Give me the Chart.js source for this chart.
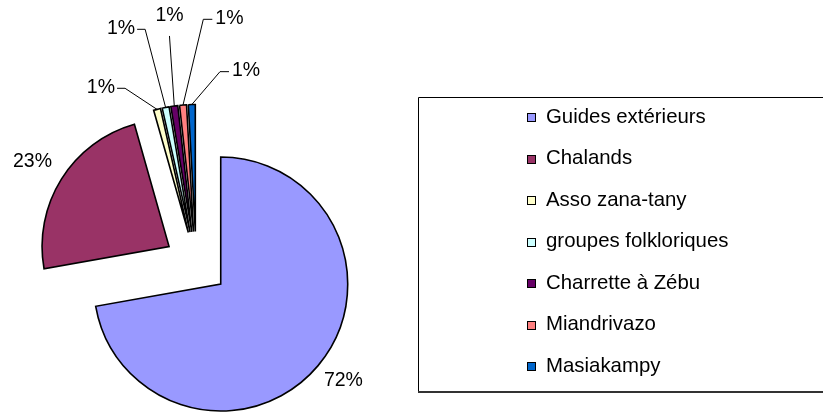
<!DOCTYPE html>
<html><head><meta charset="utf-8">
<script src="https://cdn.jsdelivr.net/npm/chart.js@4/dist/chart.umd.min.js"></script>
<style>html,body{margin:0;padding:0;background:#fff;overflow:hidden}#wrap{width:823px;height:414px;position:relative}</style>
</head><body><div id="wrap"><canvas id="c"></canvas></div>
<script>
// ---- data ----
const categories = ['Guides extérieurs','Chalands','Asso zana-tany','groupes folkloriques','Charrette à Zébu','Miandrivazo','Masiakampy'];
const shares = [72.2, 23.4, 0.88, 0.88, 0.88, 0.88, 0.88];
const sliceColors = ['#9999FF','#993366','#FFFFCC','#CCFFFF','#660066','#FF8080','#0066CC'];

// ---- layout / style ----
const EXPLODE = 32;
const FONT = '"Liberation Sans", Arial, sans-serif';
// label placement: angle (deg, clockwise from top) and distance from pie centre
const labelLayout = [
  {a:128.6, d:188.4, side:'center'},
  {a:301.8, d:192.6, side:'center'},
  {a:337.9, d:189.1, side:'left'},
  {a:347.7, d:239.7, side:'left'},
  {a:353.3, d:229.1, side:'top'},
  {a:1.67,  d:244.3, side:'right'},
  {a:7.07,  d:193.3, side:'right'}
];

const explodePlugin = {
  id: 'explode',
  afterUpdate(chart) {
    const meta = chart.getDatasetMeta(0);
    meta.data.forEach(arc => {
      const mid = (arc.startAngle + arc.endAngle) / 2;
      arc.x += Math.cos(mid) * EXPLODE;
      arc.y += Math.sin(mid) * EXPLODE;
    });
  }
};

const labelPlugin = {
  id: 'pctLabels',
  afterDatasetsDraw(chart) {
    const ctx = chart.ctx, ca = chart.chartArea;
    const cx = (ca.left + ca.right) / 2, cy = (ca.top + ca.bottom) / 2;
    const meta = chart.getDatasetMeta(0);
    const total = shares.reduce((s, v) => s + v, 0);
    ctx.save();
    ctx.font = '19.5px ' + FONT;
    ctx.fillStyle = '#000';
    ctx.strokeStyle = '#000';
    ctx.lineWidth = 1;
    meta.data.forEach((arc, i) => {
      const txt = Math.round(shares[i] / total * 100) + '%';
      const L = labelLayout[i];
      const th = (L.a - 90) * Math.PI / 180;
      const px = cx + Math.cos(th) * L.d, py = cy + Math.sin(th) * L.d;
      ctx.textBaseline = 'middle';
      if (L.side === 'center') {
        ctx.textAlign = 'center';
        ctx.fillText(txt, px, py);
        return;
      }
      const mid = (arc.startAngle + arc.endAngle) / 2;
      const tx = arc.x + Math.cos(mid) * arc.outerRadius;
      const ty = arc.y + Math.sin(mid) * arc.outerRadius;
      ctx.beginPath();
      ctx.moveTo(tx, ty);
      ctx.lineTo(px, py);
      if (L.side === 'left') {
        ctx.lineTo(px - 8, py);
        ctx.stroke();
        ctx.textAlign = 'right';
        ctx.fillText(txt, px - 10, py - 1);
      } else if (L.side === 'right') {
        ctx.lineTo(px + 9, py);
        ctx.stroke();
        ctx.textAlign = 'left';
        ctx.fillText(txt, px + 12, py - 1);
      } else {
        ctx.stroke();
        ctx.textAlign = 'center';
        ctx.fillText(txt, px, py - 20);
      }
    });
    ctx.restore();
  }
};

const legendPlugin = {
  id: 'boxLegend',
  afterDraw(chart) {
    const ctx = chart.ctx;
    ctx.save();
    ctx.strokeStyle = '#000';
    ctx.lineWidth = 1;
    ctx.beginPath();
    ctx.moveTo(840, 97.5); ctx.lineTo(418.5, 97.5); ctx.lineTo(418.5, 391.5);
    ctx.stroke();
    ctx.strokeStyle = '#333';
    ctx.lineWidth = 2;
    ctx.beginPath();
    ctx.moveTo(418, 392); ctx.lineTo(840, 392);
    ctx.stroke();
    ctx.lineWidth = 1;
    ctx.font = '20.4px ' + FONT;
    ctx.textAlign = 'left';
    ctx.textBaseline = 'middle';
    categories.forEach((name, i) => {
      const y = 117 + i * 41.5;
      ctx.fillStyle = sliceColors[i];
      ctx.fillRect(527.5, Math.round(y - 4) + 0.5, 8, 8);
      ctx.strokeStyle = '#000';
      ctx.strokeRect(527.5, Math.round(y - 4) + 0.5, 8, 8);
      ctx.fillStyle = '#000';
      ctx.fillText(name, 546, y);
    });
    ctx.restore();
  }
};

new Chart(document.getElementById('c'), {
  type: 'pie',
  data: {
    labels: categories,
    datasets: [{
      data: shares,
      backgroundColor: sliceColors,
      borderColor: '#000',
      borderWidth: 1.6,
      borderJoinStyle: 'miter',
      radius: 127,
      clip: false
    }]
  },
  options: {
    responsive: true,
    maintainAspectRatio: false,
    animation: false,
    events: [],
    layout: { padding: { left: 0, right: 430.6, top: 113, bottom: 0 } },
    plugins: { legend: { display: false }, tooltip: { enabled: false }, title: { display: false } }
  },
  plugins: [explodePlugin, labelPlugin, legendPlugin]
});
</script>
</body></html>
